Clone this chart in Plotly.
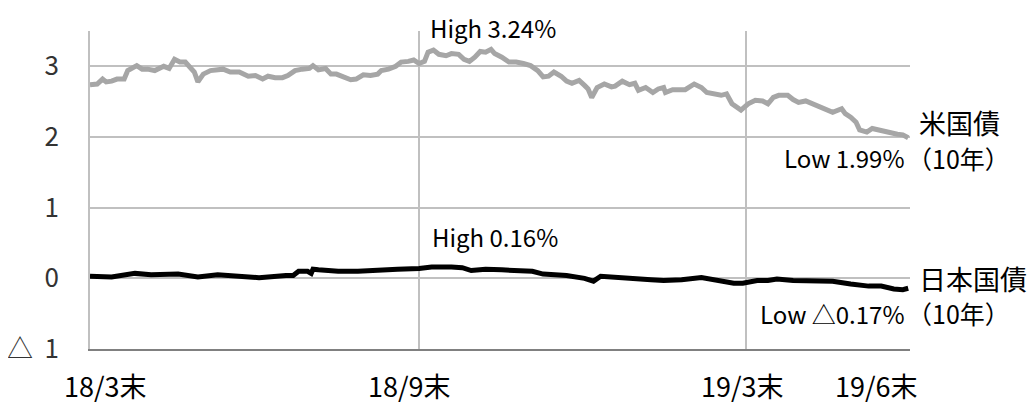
import plotly.graph_objects as go

# 米国債（10年）利回り, %
us_dates = [
    "2018-03-31", "2018-04-04", "2018-04-07", "2018-04-09", "2018-04-12", "2018-04-15",
    "2018-04-19", "2018-04-21", "2018-04-26", "2018-04-29", "2018-05-02", "2018-05-06",
    "2018-05-11", "2018-05-14", "2018-05-17", "2018-05-20", "2018-05-23", "2018-05-27",
    "2018-05-28", "2018-05-30", "2018-06-02", "2018-06-06", "2018-06-09", "2018-06-13",
    "2018-06-17", "2018-06-22", "2018-06-27", "2018-07-01", "2018-07-05", "2018-07-08",
    "2018-07-12", "2018-07-16", "2018-07-19", "2018-07-23", "2018-07-27", "2018-07-31",
    "2018-08-02", "2018-08-05", "2018-08-09", "2018-08-12", "2018-08-15", "2018-08-19",
    "2018-08-23", "2018-08-26", "2018-08-30", "2018-09-03", "2018-09-07", "2018-09-09",
    "2018-09-13", "2018-09-17", "2018-09-20", "2018-09-24", "2018-09-27", "2018-09-30",
    "2018-10-03", "2018-10-05", "2018-10-08", "2018-10-11", "2018-10-15", "2018-10-18",
    "2018-10-22", "2018-10-25", "2018-10-28", "2018-10-31", "2018-11-03", "2018-11-06",
    "2018-11-09", "2018-11-11", "2018-11-15", "2018-11-19", "2018-11-23", "2018-11-27",
    "2018-12-01", "2018-12-05", "2018-12-08", "2018-12-11", "2018-12-14", "2018-12-18",
    "2018-12-21", "2018-12-24", "2018-12-28", "2018-12-31", "2019-01-02", "2019-01-04",
    "2019-01-07", "2019-01-11", "2019-01-15", "2019-01-17", "2019-01-21", "2019-01-25",
    "2019-01-28", "2019-01-30", "2019-02-03", "2019-02-07", "2019-02-10", "2019-02-13",
    "2019-02-14", "2019-02-18", "2019-02-23", "2019-02-25", "2019-03-02", "2019-03-06",
    "2019-03-09", "2019-03-13", "2019-03-17", "2019-03-20", "2019-03-23", "2019-03-28",
    "2019-04-01", "2019-04-05", "2019-04-09", "2019-04-12", "2019-04-15", "2019-04-18",
    "2019-04-23", "2019-04-26", "2019-04-29", "2019-05-03", "2019-05-07", "2019-05-11",
    "2019-05-14", "2019-05-18", "2019-05-23", "2019-05-25", "2019-05-28", "2019-05-31",
    "2019-06-02", "2019-06-06", "2019-06-09", "2019-06-12", "2019-06-16", "2019-06-19",
    "2019-06-23", "2019-06-26", "2019-06-29",
]
us_yield = [
    2.74, 2.75, 2.82, 2.78, 2.79, 2.82,
    2.82, 2.94, 3.01, 2.96, 2.96, 2.94,
    3.00, 2.97, 3.10, 3.06, 3.06, 2.96,
    2.92, 2.78, 2.89, 2.94, 2.95, 2.96,
    2.92, 2.92, 2.86, 2.87, 2.82, 2.86,
    2.84, 2.84, 2.87, 2.94, 2.96, 2.97,
    3.01, 2.95, 2.97, 2.89, 2.89, 2.85,
    2.81, 2.82, 2.88, 2.87, 2.89, 2.94,
    2.96, 3.00, 3.06, 3.07, 3.09, 3.04,
    3.07, 3.20, 3.23, 3.17, 3.15, 3.18,
    3.17, 3.10, 3.07, 3.13, 3.21, 3.20,
    3.24, 3.18, 3.13, 3.06, 3.06, 3.04,
    3.01, 2.94, 2.85, 2.86, 2.92, 2.86,
    2.79, 2.76, 2.80, 2.73, 2.68, 2.56,
    2.70, 2.75, 2.71, 2.72, 2.79, 2.74,
    2.76, 2.66, 2.70, 2.63, 2.68, 2.70,
    2.63, 2.67, 2.66, 2.67, 2.75, 2.70,
    2.63, 2.61, 2.59, 2.61, 2.47, 2.38,
    2.47, 2.52, 2.51, 2.47, 2.56, 2.59,
    2.59, 2.53, 2.49, 2.51, 2.47, 2.42,
    2.40, 2.35, 2.40, 2.33, 2.28, 2.21,
    2.10, 2.07, 2.12, 2.10, 2.07, 2.05,
    2.04, 2.03, 1.99,
]

# 日本国債（10年）利回り, %
jp_dates = [
    "2018-03-31", "2018-04-12", "2018-04-25", "2018-05-04", "2018-05-19", "2018-05-30",
    "2018-06-10", "2018-06-22", "2018-07-03", "2018-07-18", "2018-07-22", "2018-07-25",
    "2018-07-30", "2018-08-01", "2018-08-02", "2018-08-05", "2018-08-16", "2018-08-27",
    "2018-09-07", "2018-09-18", "2018-09-30", "2018-10-07", "2018-10-18", "2018-10-24",
    "2018-10-29", "2018-11-06", "2018-11-15", "2018-12-02", "2018-12-08", "2018-12-21",
    "2018-12-31", "2019-01-05", "2019-01-09", "2019-01-18", "2019-01-28", "2019-02-06",
    "2019-02-13", "2019-02-23", "2019-03-06", "2019-03-15", "2019-03-24", "2019-03-29",
    "2019-04-06", "2019-04-12", "2019-04-17", "2019-04-26", "2019-05-07", "2019-05-18",
    "2019-05-28", "2019-06-07", "2019-06-14", "2019-06-21", "2019-06-26", "2019-06-29",
]
jp_yield = [
    0.03, 0.02, 0.07, 0.05, 0.06, 0.02,
    0.05, 0.02, 0.01, 0.04, 0.04, 0.10,
    0.10, 0.07, 0.13, 0.12, 0.10, 0.10,
    0.12, 0.13, 0.14, 0.16, 0.16, 0.15,
    0.11, 0.13, 0.12, 0.10, 0.06, 0.04,
    0.00, -0.04, 0.03, 0.01, -0.01, -0.02,
    -0.03, -0.02, 0.01, -0.03, -0.07, -0.07,
    -0.03, -0.03, -0.01, -0.03, -0.03, -0.04,
    -0.08, -0.11, -0.11, -0.15, -0.16, -0.14,
]

y_ticks = [-1, 0, 1, 2, 3]
y_labels = ["△\u00a0\u00a01", "0", "1", "2", "3"]
grid_dates = ["2018-03-31", "2018-09-30", "2019-03-31"]
x_labels = ["18/3末", "18/9末", "19/3末", "19/6末"]

FONT = "Noto Sans CJK JP, Noto Sans, sans-serif"
PAGE = 8  # default body margin of the html page
W, H = 1036 - PAGE, 408 - PAGE
# plot area edges, in the page's pixels
L, R, T, B = 90, 910, 31, 349


def px(x):
    return (x - L) / (R - L)


def py(y):
    return (B - y) / (B - T)


fig = go.Figure()
fig.add_trace(go.Scatter(x=us_dates, y=us_yield, mode="lines",
                         line=dict(color="#a6a6a6", width=5), name="米国債"))
fig.add_trace(go.Scatter(x=jp_dates, y=jp_yield, mode="lines",
                         line=dict(color="#000000", width=5), name="日本国債"))

notes = [
    ("High 3.24%", 428, PAGE, "left", "top", 24),
    ("High 0.16%", 430, 236, "left", "middle", 24),
    ("Low 1.99%", 907, 157, "right", "middle", 24),
    ("Low △0.17%", 907, 313, "right", "middle", 24),
    ("米国債", 917, 122, "left", "middle", 27),
    ("（10年）", 905, 158, "left", "middle", 25),
    ("日本国債", 917, 278, "left", "middle", 27),
    ("（10年）", 905, 313, "left", "middle", 25),
]
for text, x, y, xa, ya, size in notes:
    fig.add_annotation(text=text, x=px(x), y=py(y), xref="paper", yref="paper",
                       xanchor=xa, yanchor=ya, showarrow=False,
                       font=dict(size=size, color="#000000"))

# x tick labels sit slightly off the gridlines in the original
for text, x in zip(x_labels, [105, 409, 742, 876]):
    fig.add_annotation(text=text, x=px(x), y=py(385), xref="paper", yref="paper",
                       xanchor="center", yanchor="middle", showarrow=False,
                       font=dict(size=27, color="#000000"))

fig.update_layout(
    width=W, height=H,
    margin=dict(l=L - PAGE, r=W - (R - PAGE), t=T - PAGE, b=H - (B - PAGE),
                autoexpand=False),
    paper_bgcolor="white", plot_bgcolor="white",
    showlegend=False,
    font=dict(family=FONT, color="#000000"),
    xaxis=dict(type="date", range=["2018-03-31", "2019-06-30"], automargin=False,
               tickvals=grid_dates, showticklabels=False,
               showgrid=True, gridcolor="#c0c0c0", gridwidth=1.5,
               zeroline=False, showline=True, linecolor="#808080", linewidth=2),
    yaxis=dict(range=[-1, 3.5], tickvals=y_ticks, ticktext=y_labels, automargin=False,
               tickfont=dict(size=26, color="#333333"), ticklabelstandoff=24,
               showgrid=True, gridcolor="#c0c0c0", gridwidth=1.5,
               zeroline=False, showline=True, linecolor="#c0c0c0", linewidth=1.5),
)

fig.write_html("out.html")
